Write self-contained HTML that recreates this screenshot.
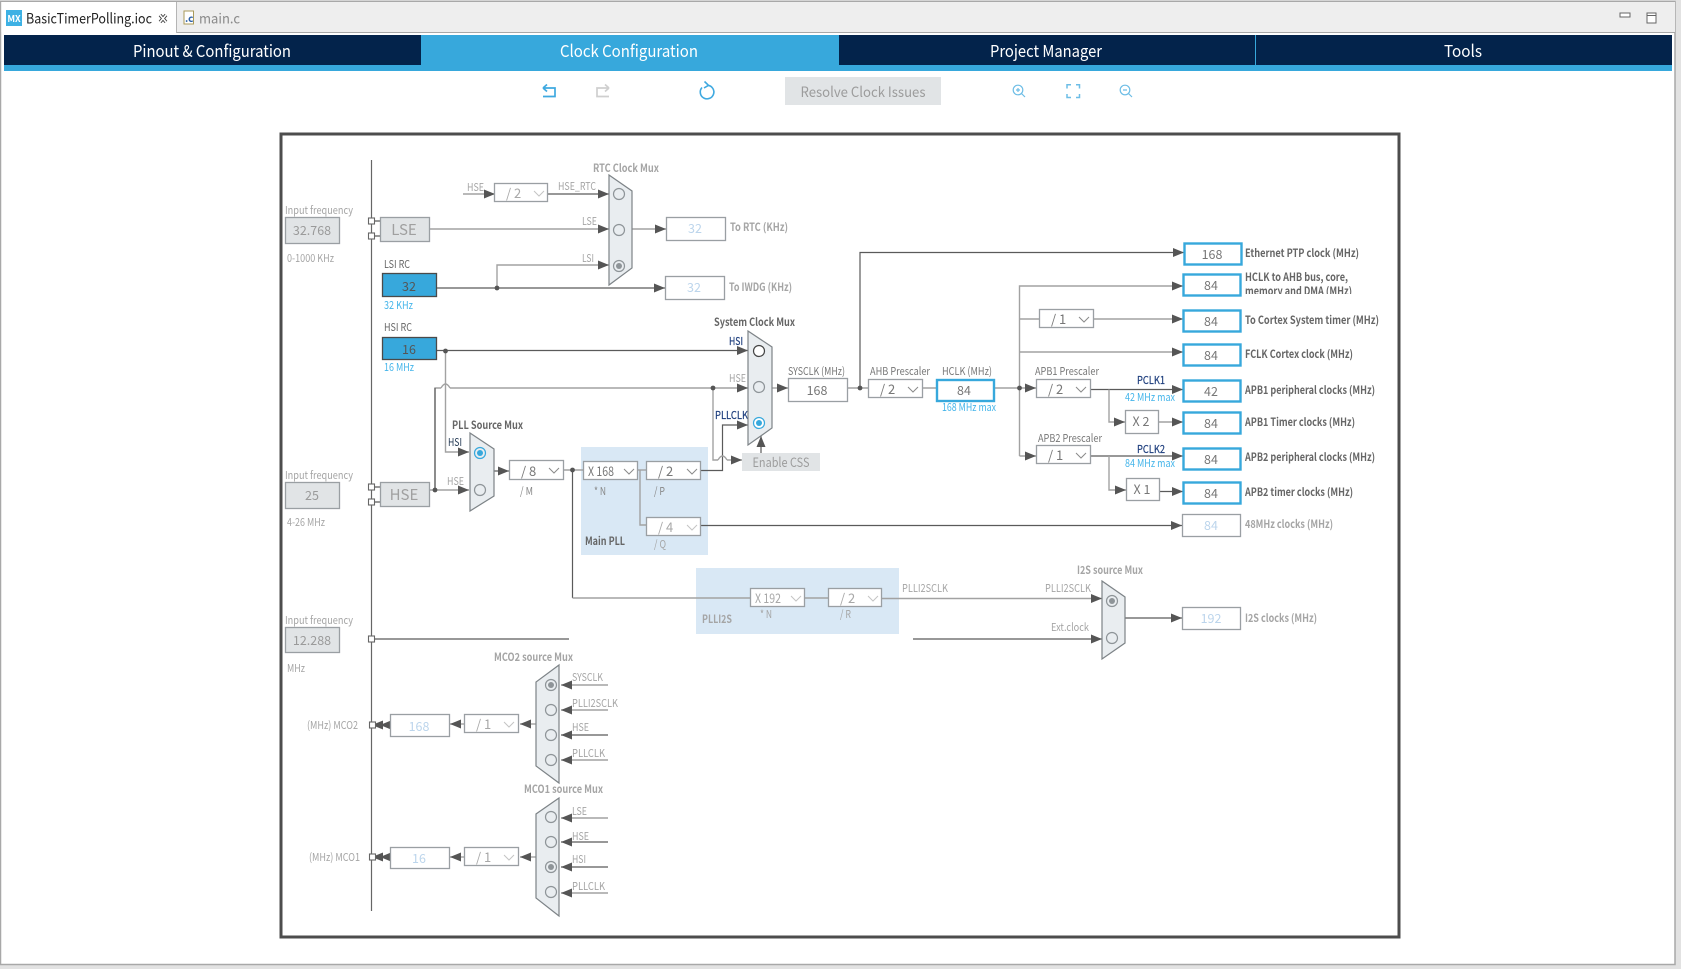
<!DOCTYPE html>
<html><head><meta charset="utf-8">
<style>
html,body{margin:0;padding:0;background:#e2e2e2;width:1681px;height:969px;overflow:hidden}
svg{display:block;font-family:"Noto Sans CJK SC","Liberation Sans",sans-serif}
text{font-size:11px;fill:#a5a5a5}
.dk{fill:#666}
.b{font-weight:700}
.bl{fill:#45b5ea}
.nv{fill:#1f3f7e;stroke:#1f3f7e;stroke-width:.2}
.val{font-size:12.5px;text-anchor:middle;fill:#777}
.dis{font-size:12.5px;text-anchor:middle;fill:#bcd5ec}
.dd{font-size:13px;fill:#777}
.ddd{font-size:13px;fill:#a8a8a8}
.box{fill:#fff;stroke:#9a9fa3;stroke-width:1.3}
.gbox{fill:#e1e4e6;stroke:#9a9fa3;stroke-width:1.3}
.blue{fill:#fff;stroke:#37a8dc;stroke-width:2.4}
.rc{fill:#37a8dc;stroke:#4a4a4a;stroke-width:1.3}
.mux{fill:#e9edf0;stroke:#7d8387;stroke-width:1.2}
.c{fill:none;stroke:#8e9498;stroke-width:1.2}
.g{fill:none;stroke:#a2a2a2;stroke-width:1.4;marker-end:url(#a)}
.d{fill:none;stroke:#5a5a5a;stroke-width:1.2;marker-end:url(#a)}
.g0{fill:none;stroke:#a2a2a2;stroke-width:1.4}
.d0{fill:none;stroke:#5a5a5a;stroke-width:1.2}
.ch{fill:none;stroke:#8a8a8a;stroke-width:1}
.chl{fill:none;stroke:#c4c4c4;stroke-width:1}
.sq{fill:#fff;stroke:#666;stroke-width:1.1}
.j{fill:#555}
.nav{font-size:16.5px;fill:#fff;text-anchor:middle}
</style></head><body>
<svg width="1681" height="969" viewBox="0 0 1681 969" xmlns="http://www.w3.org/2000/svg">
<defs>
<marker id="a" markerUnits="userSpaceOnUse" markerWidth="12" markerHeight="10" refX="11" refY="4.500" orient="auto"><path d="M0 0L11 4.500L0 9Z" fill="#555"/></marker>
<clipPath id="cl"><rect x="1240" y="270" width="150" height="24"/></clipPath>
</defs>
<!-- window -->
<rect x="0.500" y="1.500" width="1674.500" height="963" fill="#fff" stroke="#a8a8a8" stroke-width="1.500"/>
<rect x="1" y="2" width="1674" height="30" fill="#eeeeee"/>
<line x1="176" y1="32.500" x2="1675" y2="32.500" stroke="#a8a8a8" stroke-width="1"/>
<rect x="2" y="2" width="174" height="33" fill="#fff"/>
<line x1="176.500" y1="2" x2="176.500" y2="33" stroke="#b5b5b5"/>
<rect x="6" y="10" width="16" height="16" fill="#3db1e4"/>
<text x="14" y="22" style="font-size:9px;fill:#fff;text-anchor:middle;font-weight:700">MX</text>
<text x="26" y="23.500" textLength="126" lengthAdjust="spacingAndGlyphs" style="font-size:14px;fill:#222">BasicTimerPolling.ioc</text>
<path d="M160 15L166 22M166 15L160 22" stroke="#444" stroke-width="3.400"/><path d="M160 15L166 22M166 15L160 22" stroke="#fff" stroke-width="1.600"/>
<rect x="184" y="11" width="9.500" height="13" fill="#fff" stroke="#a99a5a"/>
<text x="185" y="22" style="font-size:10px;fill:#2a5fa8;font-weight:700">.c</text>
<text x="199" y="23.500" textLength="41" lengthAdjust="spacingAndGlyphs" style="font-size:14px;fill:#8a8a8a">main.c</text>
<rect x="1620" y="13" width="10" height="4" fill="#fff" stroke="#666"/>
<rect x="1647" y="13" width="9" height="10" fill="#fff" stroke="#666"/><line x1="1647" y1="15.500" x2="1656" y2="15.500" stroke="#666"/>
<!-- nav -->
<rect x="4" y="35" width="1668" height="36" fill="#37a8dc"/>
<rect x="4" y="35" width="417" height="30" fill="#03234b"/>
<rect x="839" y="35" width="416" height="30" fill="#03234b"/>
<rect x="1256" y="35" width="416" height="30" fill="#03234b"/>
<text class="nav" x="212" y="57" textLength="158" lengthAdjust="spacingAndGlyphs">Pinout &amp; Configuration</text>
<text class="nav" x="629" y="57" textLength="138" lengthAdjust="spacingAndGlyphs">Clock Configuration</text>
<text class="nav" x="1046" y="57" textLength="112" lengthAdjust="spacingAndGlyphs">Project Manager</text>
<text class="nav" x="1463" y="57" textLength="38" lengthAdjust="spacingAndGlyphs">Tools</text>
<!-- toolbar -->
<path d="M543 88H555V96.500H543M543 88L547 84.500M543 88L547 91.500" fill="none" stroke="#3fa9e0" stroke-width="1.700"/>
<path d="M609 88H597V96.500H609M609 88L605 84.500M609 88L605 91.500" fill="none" stroke="#cfcfcf" stroke-width="1.700"/>
<path d="M702 87.500A6.800 6.800 0 1 0 708 85.300M704.500 81.500L708.500 85.300L704 88" fill="none" stroke="#3fa9e0" stroke-width="1.600"/>
<rect x="785" y="77" width="156" height="28" fill="#e1e4e6"/>
<text x="863" y="97" textLength="125" lengthAdjust="spacingAndGlyphs" style="font-size:14px;fill:#9c9c9c;text-anchor:middle">Resolve Clock Issues</text>
<g fill="none" stroke="#6dbde6" stroke-width="1.200">
<circle cx="1018" cy="90" r="4.800"/><path d="M1021.500 93.500L1025 97M1016 90H1020M1018 88V92"/>
<path d="M1067 88.500V84.700H1071M1076 84.700H1079.500V88.500M1079.500 94V97.500H1076M1071 97.500H1067V94" stroke-width="1.500"/>
<circle cx="1125" cy="90" r="4.800"/><path d="M1128.500 93.500L1132 97M1123 90H1127"/>
</g>
<!-- frame -->
<rect x="281" y="134" width="1118" height="803" fill="#fff" stroke="#4d4d4d" stroke-width="3"/>
<!-- PLL backgrounds -->
<rect x="581" y="447" width="127" height="108" fill="#d9e8f5"/>
<rect x="696" y="568" width="203" height="66" fill="#d9e8f5"/>
<line x1="371.500" y1="160" x2="371.500" y2="911" stroke="#666" stroke-width="1.200"/>
<!-- connectors -->
<path class="g" d="M463 194H495"/>
<path class="d" d="M548 194H609"/>
<path class="g" d="M430 229H609"/>
<path class="g" d="M632 229H666"/>
<path class="d" d="M437 288H665"/>
<path class="g" d="M497 288V265H609"/>
<path class="d" d="M437 350.500H748"/>
<path class="g" d="M445.500 351V452H469"/>
<path class="g" d="M435 490V388H441M450 388H748"/>
<path class="g0" d="M441 388Q445.500 380 450 388"/>
<path class="d0" d="M435 388V490"/>
<path class="g" d="M430 490H469"/>
<path class="d" d="M494 471H509"/>
<path class="g0" d="M564 470H583"/>
<path class="d0" d="M572.500 470V598"/>
<path class="g0" d="M572.500 598H750M805 598H828"/>
<path class="g0" d="M638 470H646"/>
<path class="g0" d="M640 470V525H646"/>
<path class="d" d="M701 525.500H1182"/>
<path class="d" d="M701 470.500H722.500V425H748"/>
<path class="g" d="M713 388V460H718M727 460H742"/>
<path class="g0" d="M718 460Q722.500 452 727 460"/>
<path class="d" d="M761 453V436"/>
<path class="g" d="M772 388H788"/>
<path class="g0" d="M848 388H868M923 388H936M994 388H1019"/>
<path class="d" d="M860 388V252.500H1184"/>
<path class="g0" d="M1019.500 388V456"/>
<path class="g" d="M1019.500 388V286H1183"/>
<path class="g0" d="M1019.500 319H1039"/>
<path class="g" d="M1094 319H1183"/>
<path class="g" d="M1019.500 352H1183"/>
<path class="g" d="M1019.500 388H1036"/>
<path class="g" d="M1019.500 456H1036"/>
<path class="d" d="M1090 389.500H1183"/>
<path class="g" d="M1109 389.500V422H1125"/>
<path class="g" d="M1159 422H1183"/>
<path class="d" d="M1090 456H1183"/>
<path class="g" d="M1109 456V490H1126"/>
<path class="d" d="M1160 491.500H1183"/>
<path class="g" d="M882 598.500H1102"/>
<path class="d" d="M913 639H1102"/>
<path class="d" d="M1125 618H1182"/>
<path class="d0" d="M371 639H569"/>
<path class="d0" d="M371 221H380M371 236H380M371 487H380M371 502H380"/>
<g>
<path class="g" d="M608 685H561"/><path class="g" d="M608 710H561"/><path class="d" d="M608 735H561"/><path class="g" d="M608 760H561"/>
<path class="g" d="M608 818H561"/><path class="d" d="M608 842H561"/><path class="d" d="M608 867H561"/><path class="g" d="M608 893H561"/>
<path class="g" d="M536 724H520"/><path class="g" d="M536 857H520"/>
<path class="g" d="M464 724H450"/><path class="g" d="M464 857H450"/>
<path class="d" d="M390 725H380"/><path class="d" d="M381 725H372"/>
<path class="d" d="M390 857H380"/><path class="d" d="M381 857H372"/>
</g>
<!-- junctions & squares -->
<g class="j"><circle cx="497" cy="288" r="2.400"/><circle cx="445.500" cy="351" r="2.400"/><circle cx="435" cy="490" r="2.400"/><circle cx="572.500" cy="470" r="2.400"/><circle cx="713" cy="388" r="2.400"/><circle cx="860" cy="388" r="2.400"/><circle cx="1019.500" cy="388" r="2.400"/></g>
<g class="sq"><rect x="368.500" y="218" width="6" height="6"/><rect x="368.500" y="233" width="6" height="6"/><rect x="368.500" y="484" width="6" height="6"/><rect x="368.500" y="499" width="6" height="6"/><rect x="368.500" y="636" width="6" height="6"/><rect x="369.500" y="722" width="6" height="6"/><rect x="369.500" y="854" width="6" height="6"/></g>
<!-- input column -->
<text x="285" y="214" textLength="68" lengthAdjust="spacingAndGlyphs">Input frequency</text>
<rect class="gbox" x="285.500" y="217.500" width="54" height="26"/><text class="val" x="312" y="235" style="fill:#9a9a9a">32.768</text>
<text x="287" y="262" textLength="47" lengthAdjust="spacingAndGlyphs">0-1000 KHz</text>
<rect class="gbox" x="380.500" y="217.500" width="49" height="24"/><text x="404" y="235" style="font-size:15px;fill:#a0a0a0;text-anchor:middle">LSE</text>
<text x="285" y="479" textLength="68" lengthAdjust="spacingAndGlyphs">Input frequency</text>
<rect class="gbox" x="285.500" y="482.500" width="54" height="26"/><text class="val" x="312" y="500" style="fill:#9a9a9a">25</text>
<text x="287" y="526" textLength="38" lengthAdjust="spacingAndGlyphs">4-26 MHz</text>
<rect class="gbox" x="380.500" y="482.500" width="49" height="24"/><text x="404" y="500" style="font-size:15px;fill:#a0a0a0;text-anchor:middle">HSE</text>
<text x="285" y="624" textLength="68" lengthAdjust="spacingAndGlyphs">Input frequency</text>
<rect class="gbox" x="285.500" y="627.500" width="54" height="25"/><text class="val" x="312" y="645" style="fill:#9a9a9a">12.288</text>
<text x="287" y="672" textLength="18" lengthAdjust="spacingAndGlyphs">MHz</text>
<text class="dk" x="384" y="268" textLength="26" lengthAdjust="spacingAndGlyphs">LSI RC</text>
<rect class="rc" x="382.500" y="273.500" width="54" height="23"/><text class="val" x="409" y="291" style="fill:#555">32</text>
<text class="bl" x="384" y="309" textLength="29" lengthAdjust="spacingAndGlyphs">32 KHz</text>
<text class="dk" x="384" y="331" textLength="28" lengthAdjust="spacingAndGlyphs">HSI RC</text>
<rect class="rc" x="382.500" y="337.500" width="54" height="22"/><text class="val" x="409" y="354" style="fill:#555">16</text>
<text class="bl" x="384" y="371" textLength="30" lengthAdjust="spacingAndGlyphs">16 MHz</text>
<!-- RTC -->
<text x="467" y="191" textLength="17" lengthAdjust="spacingAndGlyphs">HSE</text>
<rect class="box" x="494.500" y="183.500" width="53" height="18"/><text class="ddd" x="506" y="198">/ 2</text><path class="chl" d="M534 191L539 196L544 191"/>
<text x="558" y="190" textLength="38" lengthAdjust="spacingAndGlyphs">HSE_RTC</text>
<text x="582" y="225" textLength="15" lengthAdjust="spacingAndGlyphs">LSE</text>
<text x="582" y="262" textLength="12" lengthAdjust="spacingAndGlyphs">LSI</text>
<text class="b" x="593" y="172" textLength="66" lengthAdjust="spacingAndGlyphs">RTC Clock Mux</text>
<path class="mux" d="M609 175L632 191V268L609 285Z"/>
<circle class="c" cx="619" cy="194" r="5.500"/><circle class="c" cx="619" cy="230" r="5.500"/><circle class="c" cx="619" cy="266" r="5.500"/><circle cx="619" cy="266" r="3" fill="#8e9498"/>
<rect class="box" x="666.500" y="217.500" width="59" height="23"/><text class="dis" x="695" y="233">32</text>
<text class="b" x="730" y="231" textLength="58" lengthAdjust="spacingAndGlyphs">To RTC (KHz)</text>
<rect class="box" x="665.500" y="276.500" width="59" height="23"/><text class="dis" x="694" y="292">32</text>
<text class="b" x="729" y="291" textLength="63" lengthAdjust="spacingAndGlyphs">To IWDG (KHz)</text>
<!-- PLL source -->
<text class="b dk" x="452" y="429" textLength="71" lengthAdjust="spacingAndGlyphs">PLL Source Mux</text>
<text x="448" y="446" textLength="14" lengthAdjust="spacingAndGlyphs" style="fill:#1f3550">HSI</text>
<text x="447" y="485" textLength="17" lengthAdjust="spacingAndGlyphs">HSE</text>
<path class="mux" d="M470 433L494 449V496L470 511Z"/>
<circle cx="480" cy="453" r="5.500" fill="none" stroke="#37a8dc" stroke-width="1.200"/><circle cx="480" cy="453" r="3" fill="#37a8dc"/><circle class="c" cx="480" cy="490" r="5.500"/>
<rect class="box" x="509.500" y="460.500" width="54" height="19"/><text class="dd" x="521" y="476">/ 8</text><path class="ch" d="M549 468L554 473L559 468"/>
<text x="520" y="495" textLength="13" lengthAdjust="spacingAndGlyphs" style="fill:#888">/ M</text>
<!-- main PLL -->
<rect class="box" x="583.500" y="461.500" width="54" height="18"/><text class="dd" x="588" y="476" textLength="26" lengthAdjust="spacingAndGlyphs">X 168</text><path class="ch" d="M624 469L629 474L634 469"/>
<text x="594" y="495" style="fill:#888" textLength="12" lengthAdjust="spacingAndGlyphs">* N</text>
<rect class="box" x="646.500" y="461.500" width="54" height="18"/><text class="dd" x="658" y="476">/ 2</text><path class="ch" d="M687 469L692 474L697 469"/>
<text x="654" y="495" style="fill:#888" textLength="11" lengthAdjust="spacingAndGlyphs">/ P</text>
<rect class="box" x="646.500" y="517.500" width="54" height="18"/><text class="ddd" x="658" y="532">/ 4</text><path class="chl" d="M687 525L692 530L697 525"/>
<text x="654" y="548" textLength="12" lengthAdjust="spacingAndGlyphs">/ Q</text>
<text class="b dk" x="585" y="545" textLength="40" lengthAdjust="spacingAndGlyphs">Main PLL</text>
<!-- sys mux -->
<text class="b dk" x="714" y="326" textLength="81" lengthAdjust="spacingAndGlyphs">System Clock Mux</text>
<text class="nv" x="729" y="345" textLength="14" lengthAdjust="spacingAndGlyphs">HSI</text>
<text x="729" y="382" textLength="17" lengthAdjust="spacingAndGlyphs">HSE</text>
<text class="nv" x="715" y="419" textLength="33" lengthAdjust="spacingAndGlyphs">PLLCLK</text>
<path class="mux" d="M748 331L772 347V428L748 445Z"/>
<circle cx="759" cy="351" r="5.500" fill="#fff" stroke="#444" stroke-width="1.200"/><circle class="c" cx="759" cy="387" r="5.500"/><circle cx="759" cy="423" r="5.500" fill="#fff" stroke="#37a8dc" stroke-width="1.200"/><circle cx="759" cy="423" r="3" fill="#37a8dc"/>
<rect x="742" y="453" width="78" height="18" fill="#e1e4e6"/><text x="781" y="467" textLength="57" lengthAdjust="spacingAndGlyphs" style="font-size:13px;fill:#9c9c9c;text-anchor:middle">Enable CSS</text>
<text class="dk" x="788" y="375" textLength="57" lengthAdjust="spacingAndGlyphs" style="fill:#777">SYSCLK (MHz)</text>
<rect class="box" x="788.500" y="378.500" width="59" height="23"/><text class="val" x="817" y="395">168</text>
<text class="dk" x="870" y="375" textLength="60" lengthAdjust="spacingAndGlyphs" style="fill:#777">AHB Prescaler</text>
<rect class="box" x="868.500" y="379.500" width="54" height="18"/><text class="dd" x="880" y="394">/ 2</text><path class="ch" d="M908 387L913 392L918 387"/>
<text class="dk" x="942" y="375" textLength="50" lengthAdjust="spacingAndGlyphs" style="fill:#777">HCLK (MHz)</text>
<rect class="blue" x="937" y="380" width="57" height="21"/><text class="val" x="964" y="395">84</text>
<text class="bl" x="942" y="411" textLength="54" lengthAdjust="spacingAndGlyphs">168 MHz max</text>
<!-- right dropdowns -->
<rect class="box" x="1039.500" y="309.500" width="54" height="18"/><text class="dd" x="1051" y="324">/ 1</text><path class="ch" d="M1079 317L1084 322L1089 317"/>
<text x="1035" y="375" textLength="64" lengthAdjust="spacingAndGlyphs" style="fill:#777">APB1 Prescaler</text>
<rect class="box" x="1036.500" y="379.500" width="54" height="18"/><text class="dd" x="1048" y="394">/ 2</text><path class="ch" d="M1076 387L1081 392L1086 387"/>
<text x="1038" y="442" textLength="64" lengthAdjust="spacingAndGlyphs" style="fill:#777">APB2 Prescaler</text>
<rect class="box" x="1036.500" y="445.500" width="54" height="18"/><text class="dd" x="1048" y="460">/ 1</text><path class="ch" d="M1076 453L1081 458L1086 453"/>
<text class="nv" x="1137" y="384" textLength="28" lengthAdjust="spacingAndGlyphs">PCLK1</text>
<text class="bl" x="1125" y="401" textLength="50" lengthAdjust="spacingAndGlyphs">42 MHz max</text>
<text class="nv" x="1137" y="453" textLength="28" lengthAdjust="spacingAndGlyphs">PCLK2</text>
<text class="bl" x="1125" y="467" textLength="50" lengthAdjust="spacingAndGlyphs">84 MHz max</text>
<rect class="box" x="1125.500" y="410.500" width="33" height="23"/><text class="val" x="1141" y="426">X 2</text>
<rect class="box" x="1126.500" y="478.500" width="33" height="22"/><text class="val" x="1142" y="494">X 1</text>
<!-- output boxes -->
<rect class="blue" x="1184.500" y="243.500" width="57" height="21"/><text class="val" x="1212" y="259">168</text>
<rect class="blue" x="1183.500" y="274.500" width="57" height="21"/><text class="val" x="1211" y="290">84</text>
<rect class="blue" x="1183.500" y="310.500" width="57" height="21"/><text class="val" x="1211" y="326">84</text>
<rect class="blue" x="1183.500" y="344.500" width="57" height="21"/><text class="val" x="1211" y="360">84</text>
<rect class="blue" x="1183.500" y="380.500" width="57" height="21"/><text class="val" x="1211" y="396">42</text>
<rect class="blue" x="1183.500" y="412.500" width="57" height="21"/><text class="val" x="1211" y="428">84</text>
<rect class="blue" x="1183.500" y="448.500" width="57" height="21"/><text class="val" x="1211" y="464">84</text>
<rect class="blue" x="1183.500" y="482.500" width="57" height="21"/><text class="val" x="1211" y="498">84</text>
<rect class="box" x="1182.500" y="514.500" width="58" height="22"/><text class="dis" x="1211" y="530">84</text>
<g class="b">
<text class="dk" x="1245" y="257" textLength="114" lengthAdjust="spacingAndGlyphs">Ethernet PTP clock (MHz)</text>
<text class="dk" x="1245" y="281" textLength="103" lengthAdjust="spacingAndGlyphs">HCLK to AHB bus, core,</text>
<g clip-path="url(#cl)"><text class="dk" x="1245" y="295" textLength="107" lengthAdjust="spacingAndGlyphs">memory and DMA (MHz)</text></g>
<text class="dk" x="1245" y="324" textLength="134" lengthAdjust="spacingAndGlyphs">To Cortex System timer (MHz)</text>
<text class="dk" x="1245" y="358" textLength="108" lengthAdjust="spacingAndGlyphs">FCLK Cortex clock (MHz)</text>
<text class="dk" x="1245" y="394" textLength="130" lengthAdjust="spacingAndGlyphs">APB1 peripheral clocks (MHz)</text>
<text class="dk" x="1245" y="426" textLength="110" lengthAdjust="spacingAndGlyphs">APB1 Timer clocks (MHz)</text>
<text class="dk" x="1245" y="461" textLength="130" lengthAdjust="spacingAndGlyphs">APB2 peripheral clocks (MHz)</text>
<text class="dk" x="1245" y="496" textLength="108" lengthAdjust="spacingAndGlyphs">APB2 timer clocks (MHz)</text>
<text x="1245" y="528" textLength="88" lengthAdjust="spacingAndGlyphs">48MHz clocks (MHz)</text>
<text x="1245" y="622" textLength="72" lengthAdjust="spacingAndGlyphs">I2S clocks (MHz)</text>
</g>
<!-- PLLI2S -->
<rect class="box" x="750.500" y="588.500" width="54" height="18"/><text class="ddd" x="755" y="603" textLength="26" lengthAdjust="spacingAndGlyphs">X 192</text><path class="chl" d="M791 596L796 601L801 596"/>
<text x="760" y="618" textLength="12" lengthAdjust="spacingAndGlyphs">* N</text>
<rect class="box" x="828.500" y="588.500" width="53" height="18"/><text class="ddd" x="840" y="603">/ 2</text><path class="chl" d="M868 596L873 601L878 596"/>
<text x="840" y="618" textLength="11" lengthAdjust="spacingAndGlyphs">/ R</text>
<text class="b" x="702" y="623" textLength="30" lengthAdjust="spacingAndGlyphs">PLLI2S</text>
<text x="902" y="592" textLength="46" lengthAdjust="spacingAndGlyphs">PLLI2SCLK</text>
<text x="1045" y="592" textLength="46" lengthAdjust="spacingAndGlyphs">PLLI2SCLK</text>
<text x="1051" y="631" textLength="38" lengthAdjust="spacingAndGlyphs">Ext.clock</text>
<text class="b" x="1077" y="574" textLength="66" lengthAdjust="spacingAndGlyphs">I2S source Mux</text>
<path class="mux" d="M1102 581L1125 597V643L1102 659Z"/>
<circle class="c" cx="1112" cy="601" r="5.500"/><circle cx="1112" cy="601" r="3" fill="#8e9498"/><circle class="c" cx="1112" cy="638" r="5.500"/>
<rect class="box" x="1182.500" y="607.500" width="58" height="22"/><text class="dis" x="1211" y="623">192</text>
<!-- MCO2 -->
<text class="b" x="494" y="661" textLength="79" lengthAdjust="spacingAndGlyphs">MCO2 source Mux</text>
<path class="mux" d="M559 665L536 682V766L559 783Z"/>
<circle class="c" cx="551" cy="685" r="5.500"/><circle cx="551" cy="685" r="3" fill="#8e9498"/><circle class="c" cx="551" cy="710" r="5.500"/><circle class="c" cx="551" cy="735" r="5.500"/><circle class="c" cx="551" cy="760" r="5.500"/>
<text x="572" y="681" textLength="31" lengthAdjust="spacingAndGlyphs">SYSCLK</text>
<text x="572" y="707" textLength="46" lengthAdjust="spacingAndGlyphs">PLLI2SCLK</text>
<text x="572" y="731" textLength="17" lengthAdjust="spacingAndGlyphs">HSE</text>
<text x="572" y="757" textLength="33" lengthAdjust="spacingAndGlyphs">PLLCLK</text>
<rect class="box" x="464.500" y="714.500" width="54" height="18"/><text class="ddd" x="476" y="729">/ 1</text><path class="chl" d="M504 722L509 727L514 722"/>
<rect class="box" x="390.500" y="714.500" width="59" height="22"/><text class="dis" x="419" y="731">168</text>
<text x="307" y="729" textLength="51" lengthAdjust="spacingAndGlyphs">(MHz) MCO2</text>
<!-- MCO1 -->
<text class="b" x="524" y="793" textLength="79" lengthAdjust="spacingAndGlyphs">MCO1 source Mux</text>
<path class="mux" d="M559 798L536 814V898L559 916Z"/>
<circle class="c" cx="551" cy="817" r="5.500"/><circle class="c" cx="551" cy="842" r="5.500"/><circle class="c" cx="551" cy="867" r="5.500"/><circle cx="551" cy="867" r="3" fill="#8e9498"/><circle class="c" cx="551" cy="892" r="5.500"/>
<text x="572" y="815" textLength="15" lengthAdjust="spacingAndGlyphs">LSE</text>
<text x="572" y="840" textLength="17" lengthAdjust="spacingAndGlyphs">HSE</text>
<text x="572" y="863" textLength="14" lengthAdjust="spacingAndGlyphs">HSI</text>
<text x="572" y="890" textLength="33" lengthAdjust="spacingAndGlyphs">PLLCLK</text>
<rect class="box" x="464.500" y="847.500" width="54" height="18"/><text class="ddd" x="476" y="862">/ 1</text><path class="chl" d="M504 855L509 860L514 855"/>
<rect class="box" x="390.500" y="847.500" width="59" height="21"/><text class="dis" x="419" y="863">16</text>
<text x="309" y="861" textLength="51" lengthAdjust="spacingAndGlyphs">(MHz) MCO1</text>
</svg>
</body></html>
